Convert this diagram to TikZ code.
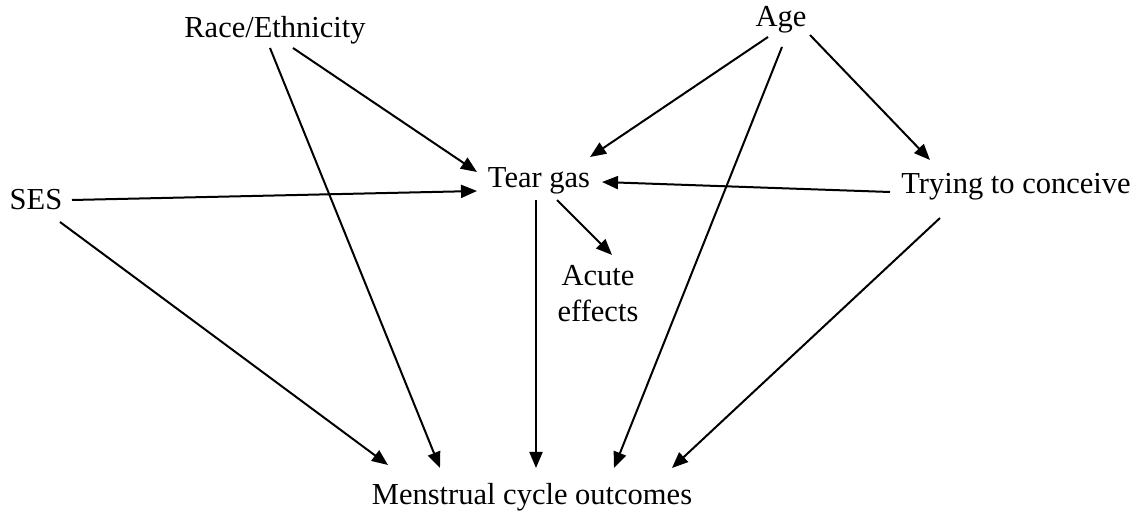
\documentclass[tikz,border=0pt]{standalone}
\usepackage{fontspec}
\setmainfont{Liberation Serif}
\usetikzlibrary{arrows.meta,calc}
\begin{document}
\begin{tikzpicture}[x=1pt,y=-1pt,
  var/.style={inner sep=0pt,font=\fontsize{30.5}{36}\selectfont},
  link/.style={line width=2pt,-{Triangle[length=16pt,width=13pt]}}]
\useasboundingbox (0,0) rectangle (1144,518);
% variables
\node[var] (race) at (275,30) {Race/Ethnicity};
\node[var] (age) at (781,20) {Age};
\node[var] (ses) at (36,200) {SES};
\node[var] (tear) at (539,181) {Tear gas};
\node[var] (try) at (1016,187) {Trying to conceive};
\node[var,align=center] (acute) at (598,294) {Acute\\effects};
\node[var] (mco) at (532,497) {Menstrual cycle outcomes};
% causal links
\draw[link] ($(race)+(18,18)$) -- ($(tear)+(-62,-9)$);
\draw[link] ($(race)+(-5,18)$) -- ($(mco)+(-92,-29)$);
\draw[link] ($(age)+(-13,17)$) -- ($(tear)+(51,-24)$);
\draw[link] ($(age)+(1,27)$) -- ($(mco)+(82,-29)$);
\draw[link] ($(age)+(29,15)$) -- ($(try)+(-86,-27)$);
\draw[link] ($(ses)+(36,0)$) -- ($(tear)+(-62,10)$);
\draw[link] ($(ses)+(24,22)$) -- ($(mco)+(-144,-32)$);
\draw[link] ($(try)+(-126,5)$) -- ($(tear)+(63,1)$);
\draw[link] ($(try)+(-76,31)$) -- ($(mco)+(140,-29)$);
\draw[link] ($(tear)+(-3,19)$) -- ($(mco)+(4,-29)$);
\draw[link] ($(tear)+(18,19)$) -- ($(acute)+(14,-39)$);
\end{tikzpicture}
\end{document}
